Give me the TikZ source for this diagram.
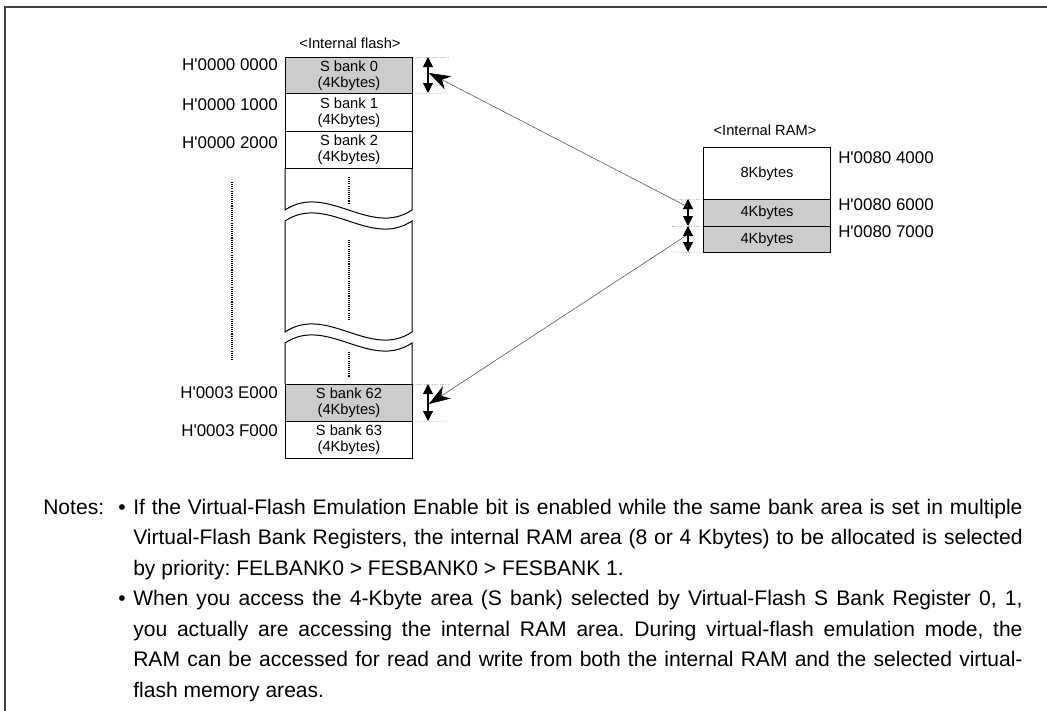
\documentclass[tikz,border=0pt]{standalone}
\usepackage{fontspec}
\setmainfont{Liberation Sans}[Ligatures=TeXOff]
\usetikzlibrary{arrows.meta}
\begin{document}
\frenchspacing
\begin{tikzpicture}[x=0.75pt,y=-0.75pt,
  bank/.style={draw, line width=0.75pt, minimum width=95.25pt, inner sep=0pt, anchor=north west, align=center, font=\fontsize{11}{12.2}\selectfont},
  shaded/.style={fill=black!20},
  lbl/.style={inner sep=0pt, font=\fontsize{11}{13}\selectfont},
  addr/.style={inner sep=0pt, font=\fontsize{12.7}{14}\selectfont},
  outline/.style={line width=0.75pt},
  dotline/.style={line width=0.9pt, dash pattern=on 0.8pt off 0.8pt},
  guide/.style={draw=black!25, line width=0.5pt, dash pattern=on 1pt off 1pt},
  dbl/.style={{Triangle[length=7.5pt,width=7.5pt]}-{Triangle[length=7.5pt,width=7.5pt]}, line width=0.8pt},
  ptr/.style={-{Stealth[length=16pt,width=11pt,inset=5pt,color=black]}, line width=0.45pt, draw=black!65},
  note/.style={anchor=base west, inner sep=0pt, font=\fontsize{15.8}{22.5}\selectfont},
  frame/.style={draw=black!75, line width=1.5pt}
]
\useasboundingbox (0,0) rectangle (1047,711);
% frame
\draw[frame] (5,711) -- (5,7) -- (1047,7);

% flash titles
\node[lbl] (tflash) at (350,43) {<Internal flash>};
% flash banks
\node[bank, shaded, minimum height=27pt] (b0) at (285,57) {S bank 0\\(4Kbytes)};
\node[bank, minimum height=28.5pt] (b1) at (285,93) {S bank 1\\(4Kbytes)};
\node[bank, minimum height=27.75pt] (b2) at (285,131) {S bank 2\\(4Kbytes)};
\node[bank, shaded, minimum height=27.75pt] (b62) at (285,384) {S bank 62\\(4Kbytes)};
\node[bank, minimum height=27.75pt] (b63) at (285,421) {S bank 63\\(4Kbytes)};
% broken parts
\draw[outline] (285,168) -- (285,210) .. controls (327,182) and (370,238) .. (412,210) -- (412,168);
\draw[outline] (285,221) .. controls (327,193) and (370,249) .. (412,221) -- (412,332)
   .. controls (370,360) and (327,304) .. (285,332) -- cycle;
\draw[outline] (285,384) -- (285,343) .. controls (327,315) and (370,371) .. (412,343) -- (412,384);
% dotted
\draw[dotline] (349,177) -- (349,203);
\draw[dotline] (349,240) -- (349,319);
\draw[dotline] (349,352) -- (349,377);
\draw[dotline] (232,182) -- (232,361);

% flash addresses
\node[addr, anchor=east] (a0) at (278,65) {H'0000 0000};
\node[addr, anchor=east] (a1) at (278,105) {H'0000 1000};
\node[addr, anchor=east] (a2) at (278,143) {H'0000 2000};
\node[addr, anchor=east] (a62) at (278,393) {H'0003 E000};
\node[addr, anchor=east] (a63) at (278,431) {H'0003 F000};

% RAM
\node[lbl] (tram) at (765,130) {<Internal RAM>};
\node[bank, minimum height=39pt] (r8) at (703,147) {8Kbytes};
\node[bank, shaded, minimum height=20.25pt] (r6) at (703,199) {4Kbytes};
\node[bank, shaded, minimum height=19.5pt] (r7) at (703,226) {4Kbytes};
\node[addr, anchor=west] (ra0) at (838,158) {H'0080 4000};
\node[addr, anchor=west] (ra1) at (838,205) {H'0080 6000};
\node[addr, anchor=west] (ra2) at (838,232) {H'0080 7000};

% guide lines
\coordinate (g0a) at (448,57);  \coordinate (g0b) at (448,93);
\coordinate (g62a) at (448,384); \coordinate (g62b) at (448,421);
\draw[guide] (b0.north east) -- (g0a);
\draw[guide] (b0.south east) -- (g0b);
\draw[guide] (b62.north east) -- (g62a);
\draw[guide] (b62.south east) -- (g62b);
\coordinate (gr1) at (672,199); \coordinate (gr2) at (672,226); \coordinate (gr3) at (672,252);
\draw[guide] (r6.north west) -- (gr1);
\draw[guide] (r7.north west) -- (gr2);
\draw[guide] (r7.south west) -- (gr3);

% double arrows
\coordinate (d0t) at (428,57); \coordinate (d0b) at (428,93);
\coordinate (d62t) at (428,384); \coordinate (d62b) at (428,421);
\coordinate (dr1) at (688,199); \coordinate (dr2) at (688,226); \coordinate (dr3) at (688,252);
\draw[dbl] (d0t) -- (d0b);
\draw[dbl] (d62t) -- (d62b);
\draw[dbl] (dr1) -- (dr2);
\draw[dbl] (dr2) -- (dr3);

% pointers
\coordinate (p0) at (429,73); \coordinate (p62) at (429,404);
\coordinate (q6) at (688,207); \coordinate (q7) at (687,235);
\draw[ptr] (q6) -- (p0);
\draw[ptr] (q7) -- (p62);

% notes
\node[note] (nlab) at (43,514) {Notes:};
\node[note] (bul1) at (118,514) {•};
\node[note] (l1) at (133,514) {\makebox[667pt][s]{If the Virtual-Flash Emulation Enable bit is enabled while the same bank area is set in multiple}};
\node[note] (l2) at (133,544.5) {\makebox[667pt][s]{Virtual-Flash Bank Registers, the internal RAM area (8 or 4 Kbytes) to be allocated is selected}};
\node[note] (l3) at (133,575) {by priority: FELBANK0 > FESBANK0 > FESBANK 1.};
\node[note] (bul2) at (118,605.5) {•};
\node[note] (l4) at (133,605.5) {\makebox[667pt][s]{When you access the 4-Kbyte area (S bank) selected by Virtual-Flash S Bank Register 0, 1,}};
\node[note] (l5) at (133,636) {\makebox[667pt][s]{you actually are accessing the internal RAM area. During virtual-flash emulation mode, the}};
\node[note] (l6) at (133,666.5) {\makebox[667pt][s]{RAM can be accessed for read and write from both the internal RAM and the selected virtual-}};
\node[note] (l7) at (133,697) {flash memory areas.};
\end{tikzpicture}
\end{document}
